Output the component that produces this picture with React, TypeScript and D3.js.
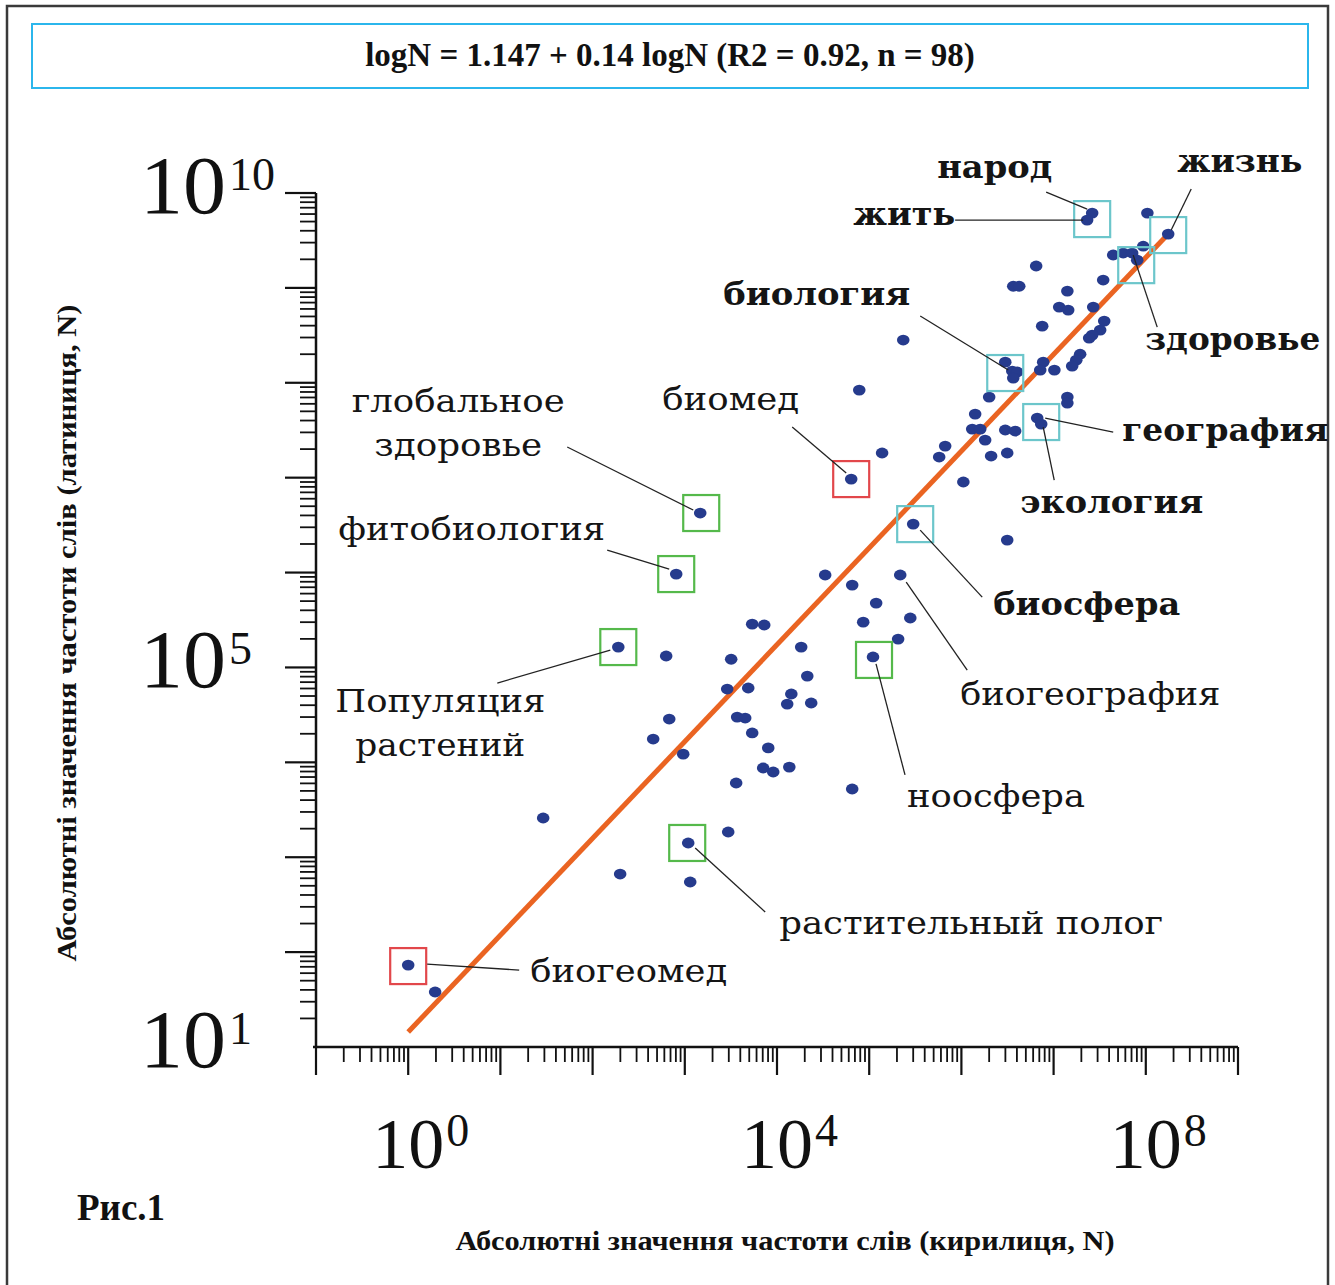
import React from "react";
import * as d3 from "d3";

// Cyrillic frequencies (x) and Latin frequencies (y) for each word point
const cyrillicN = [1, 1.96, 29.1, 199, 190, 628, 678, 454, 961, 807, 1470, 1089, 1145, 2957, 3606, 3184, 2884, 4875, 3698, 4519, 5383, 8035, 7080, 9100, 1.36e4, 5383, 7270, 1.43e4, 1.29e4, 2.35e4, 2.13e4, 1.83e4, 3.33e4, 6.54e4, 8.61e4, 1.19e5, 2.79e5, 2.06e5, 1.1e5, 6.54e4, 2.17e5, 3.0e5, 6.38e4, 1.38e5, 7.8e4, 2.34e5, 5.74e5, 6.67e5, 1.05e6, 1.41e6, 2.0e6, 1.31e6, 1.6e6, 1.81e6, 2.1e6, 3.14e6, 2.99e6, 3.83e6, 3.14e6, 2.99e6, 3.56e6, 4.03e6, 3.65e6, 7.71e6, 7.16e6, 1.02e7, 6.64e6, 7.34e6, 1.41e7, 1.41e7, 7.52e6, 1.94e7, 1.76e7, 1.59e7, 1.15e7, 1.44e7, 1.41e7, 2.69e7, 3.54e7, 3.2e7, 2.62e7, 2.43e7, 3.65e6, 4.24e6, 6.47e6, 3.45e7, 4.43e7, 5.69e7, 7.11e7, 9.38e7, 8.07e7, 1.04e8, 1.75e8, 2.62e7, 2.31e7];
const latinN = [73, 38, 2590, 665, 1.64e5, 1.32e5, 2.86e4, 1.76e4, 1.22e4, 9.64e5, 4.24e6, 1413, 548, 1845, 6053, 1.22e5, 5.92e4, 6.07e4, 3.0e4, 2.93e4, 2.04e4, 1.42e4, 8710, 7910, 8913, 2.86e5, 2.8e5, 5.25e4, 4.11e4, 4.22e4, 8.11e4, 1.64e5, 9.42e5, 7.38e5, 3.0e5, 4.77e5, 3.32e5, 1.99e5, 1.29e5, 5236, 9.42e5, 3.24e6, 9.66e6, 1.82e7, 8.38e7, 2.82e8, 1.65e7, 2.15e7, 9.0e6, 4.68e7, 7.06e7, 3.25e7, 3.25e7, 2.49e7, 1.69e7, 1.82e7, 3.18e7, 3.1e7, 2.2e6, 1.65e8, 1.33e8, 1.3e8, 1.12e8, 1.65e8, 1.36e8, 1.36e8, 4.25e7, 3.67e7, 7.06e7, 6.11e7, 3.95e8, 2.0e8, 1.73e8, 1.5e8, 6.28e8, 5.83e8, 9.25e8, 6.28e8, 4.47e8, 3.59e8, 3.18e8, 2.96e8, 1.04e9, 1.04e9, 1.7e9, 1.21e9, 2.22e9, 2.33e9, 2.33e9, 2.75e9, 1.96e9, 6.14e9, 3.69e9, 6.14e9, 5.18e9];

// Regression line end points
const fitCyrillic = [1, 1.75e8];
const fitLatin = [14.4, 3.7e9];

const xLabelExps = [0, 4, 8];
const yLabelExps = [1, 5, 10];

const titleText = "logN = 1.147 + 0.14 logN (R2 = 0.92, n = 98)";
const xTitle = "Абсолютні значення частоти слів (кирилиця, N)";
const yTitle = "Абсолютні значення частоти слів (латиниця, N)";
const figLabel = "Рис.1";

// Annotated words: point index, label lines
const annWords = [
  { idx: 0, lines: ["биогеомед"] },
  { idx: 42, lines: ["биомед"] },
  { idx: 10, lines: ["глобальное", "здоровье"] },
  { idx: 9, lines: ["фитобиология"] },
  { idx: 4, lines: ["Популяция", "растений"] },
  { idx: 11, lines: ["растительный полог"] },
  { idx: 38, lines: ["ноосфера"] },
  { idx: 40, lines: ["биогеография"] },
  { idx: 41, lines: ["биосфера"] },
  { idx: 66, lines: ["география"] },
  { idx: 67, lines: ["экология"] },
  { idx: 60, lines: ["биология"] },
  { idx: 90, lines: ["здоровье"] },
  { idx: 92, lines: ["жизнь"] },
  { idx: 93, lines: ["народ"] },
  { idx: 94, lines: ["жить"] },
];

const RED = "#e2474b";
const GREEN = "#55b94b";
const CYAN = "#6cc6cb";

// Layout/style of each annotation (px offsets relative to the point)
const annStyle = [
  { bold: false, box: RED, boxOff: [0, 1], lead: [[19, -1], [111, 5]], text: [122, 17], anchor: "start", widths: [197] },
  { bold: false, box: RED, boxOff: [0, 0], lead: [[-5, -6], [-59, -52]], text: [-189, -69], anchor: "start", widths: [137] },
  { bold: false, box: GREEN, boxOff: [1, 0], lead: [[-7, -3], [-133, -66]], text: [-242, -101], anchor: "middle", widths: [213, 168] },
  { bold: false, box: GREEN, boxOff: [0, 0], lead: [[-7, -5], [-69, -24]], text: [-338, -34], anchor: "start", widths: [267] },
  { bold: false, box: GREEN, boxOff: [0, 0], lead: [[-8, 3], [-121, 36]], text: [-178, 65], anchor: "middle", widths: [210, 170] },
  { bold: false, box: GREEN, boxOff: [-1, 0], lead: [[7, 5], [77, 69]], text: [91, 91], anchor: "start", widths: [384] },
  { bold: false, box: GREEN, boxOff: [1, 3], lead: [[3, 7], [32, 118]], text: [34, 150], anchor: "start", widths: [178] },
  { bold: false, box: null, boxOff: [0, 0], lead: [[6, 7], [67, 95]], text: [60, 130], anchor: "start", widths: [260] },
  { bold: true, box: CYAN, boxOff: [2, 0], lead: [[7, 6], [69, 73]], text: [80, 91], anchor: "start", widths: [187] },
  { bold: true, box: CYAN, boxOff: [4, 4], lead: [[8, 0], [76, 14]], text: [85, 23], anchor: "start", widths: [206] },
  { bold: true, box: null, boxOff: [0, 0], lead: [[2, 3], [13, 56]], text: [-21, 89], anchor: "start", widths: [183] },
  { bold: true, box: CYAN, boxOff: [-7, 2], lead: [[-4, -1], [-92, -55]], text: [-289, -66], anchor: "start", widths: [187] },
  { bold: true, box: CYAN, boxOff: [-1, 5], lead: [[-4, -5], [20, 67]], text: [8, 90], anchor: "start", widths: [175] },
  { bold: true, box: CYAN, boxOff: [0, 1], lead: [[3, -4], [23, -45]], text: [9, -62], anchor: "start", widths: [125] },
  { bold: true, box: CYAN, boxOff: [0, 6], lead: [[-5, -4], [-46, -21]], text: [-155, -35], anchor: "start", widths: [115] },
  { bold: true, box: null, boxOff: [0, 0], lead: [[-4, 0], [-132, 0]], text: [-234, 5], anchor: "start", widths: [102] },
];

const W = 1335;
const H = 1285;

function logTicks(lo: number, hi: number): number[] {
  const out: number[] = [];
  d3.range(lo, hi).forEach((e) => {
    d3.range(1, 10).forEach((k) => out.push(k * Math.pow(10, e)));
  });
  out.push(Math.pow(10, hi));
  return out;
}

export default function App() {
  const x = d3.scaleLog().domain([0.1, 1e9]).range([316, 1238]);
  const y = d3.scaleLog().domain([10, 1e10]).range([1047, 193]);
  const isMajor = (v: number) => Math.abs(Math.log10(v) - Math.round(Math.log10(v))) < 1e-6;
  const xTicks = logTicks(-1, 9);
  const yTicks = logTicks(1, 10);
  const serif = "'Liberation Serif', 'Times New Roman', serif";
  const labelFont = "'DejaVu Serif', serif";

  const line = d3
    .line<number>()
    .x((_, i) => x(fitCyrillic[i]))
    .y((_, i) => y(fitLatin[i]));

  return (
    <svg width={W} height={H} style={{ position: "absolute", left: 0, top: 0, background: "#fff" }}>
      <rect x={0} y={0} width={W} height={H} fill="#fff" />
      {/* outer frame */}
      <rect x={7} y={6} width={1321} height={1300} fill="none" stroke="#3a3a3a" strokeWidth={2.5} />
      {/* title box */}
      <rect x={32} y={24} width={1276} height={64} fill="none" stroke="#2bb6ec" strokeWidth={2} />
      <text x={670} y={66} textAnchor="middle" fontFamily={serif} fontWeight="bold" fontSize={33} fill="#111">
        {titleText}
      </text>

      {/* y axis */}
      <line x1={316} x2={316} y1={y(1e10)} y2={y(10)} stroke="#111" strokeWidth={2.5} />
      {yTicks.filter((v) => v > 10).map((v, i) => (
        <line key={"yt" + i} x1={isMajor(v) ? 285 : 300} x2={316} y1={y(v)} y2={y(v)} stroke="#111" strokeWidth={isMajor(v) ? 2.2 : 1.8} />
      ))}
      {/* x axis */}
      <line x1={313} x2={x(1e9)} y1={1047} y2={1047} stroke="#111" strokeWidth={2.5} />
      {xTicks.map((v, i) => (
        <line key={"xt" + i} x1={x(v)} x2={x(v)} y1={1047} y2={isMajor(v) ? 1075 : 1062} stroke="#111" strokeWidth={isMajor(v) ? 2.2 : 1.8} />
      ))}

      {/* y tick labels */}
      {yLabelExps.map((e) => (
        <g key={"yl" + e}>
          <text x={226} y={y(Math.pow(10, e)) + 20} textAnchor="end" fontFamily={serif} fontSize={82} textLength={86} lengthAdjust="spacingAndGlyphs" fill="#111">10</text>
          <text x={229} y={y(Math.pow(10, e)) - 3} textAnchor="start" fontFamily={serif} fontSize={46} fill="#111">{String(e)}</text>
        </g>
      ))}
      {/* x tick labels */}
      {xLabelExps.map((e) => (
        <g key={"xl" + e}>
          <text x={x(Math.pow(10, e))} y={1168} textAnchor="middle" fontFamily={serif} fontSize={72} fill="#111">10</text>
          <text x={x(Math.pow(10, e)) + 38} y={1146} textAnchor="start" fontFamily={serif} fontSize={46} fill="#111">{String(e)}</text>
        </g>
      ))}

      {/* regression line */}
      <path d={line(fitCyrillic) || ""} stroke="#ea6422" strokeWidth={5} fill="none" />

      {/* points */}
      {cyrillicN.map((c, i) => (
        <ellipse key={"p" + i} cx={x(c)} cy={y(latinN[i])} rx={6.3} ry={5.4} fill="#263b8d" />
      ))}

      {/* annotations */}
      {annWords.map((a, k) => {
        const s = annStyle[k];
        const px = x(cyrillicN[a.idx]);
        const py = y(latinN[a.idx]);
        return (
          <g key={"a" + k}>
            {s.box && (
              <rect x={px + s.boxOff[0] - 18} y={py + s.boxOff[1] - 18} width={36} height={36} fill="none" stroke={s.box} strokeWidth={2.2} />
            )}
            <line x1={px + s.lead[0][0]} y1={py + s.lead[0][1]} x2={px + s.lead[1][0]} y2={py + s.lead[1][1]} stroke="#222" strokeWidth={1.3} />
            {a.lines.map((t, j) => (
              <text
                key={j}
                x={px + s.text[0]}
                y={py + s.text[1] + j * 44}
                textAnchor={s.anchor}
                fontFamily={labelFont}
                fontWeight={s.bold ? "bold" : "normal"}
                fontSize={32}
                textLength={s.widths[j]}
                lengthAdjust="spacingAndGlyphs"
                fill="#151515"
              >
                {t}
              </text>
            ))}
          </g>
        );
      })}

      {/* axis titles */}
      <text x={785} y={1250} textAnchor="middle" fontFamily={serif} fontWeight="bold" fontSize={28} textLength={659} lengthAdjust="spacingAndGlyphs" fill="#111">
        {xTitle}
      </text>
      <text transform="translate(76,633) rotate(-90)" textAnchor="middle" fontFamily={serif} fontWeight="bold" fontSize={28} textLength={657} lengthAdjust="spacingAndGlyphs" fill="#111">
        {yTitle}
      </text>
      <text x={77} y={1220} fontFamily={serif} fontWeight="bold" fontSize={37} fill="#111">
        {figLabel}
      </text>
    </svg>
  );
}
